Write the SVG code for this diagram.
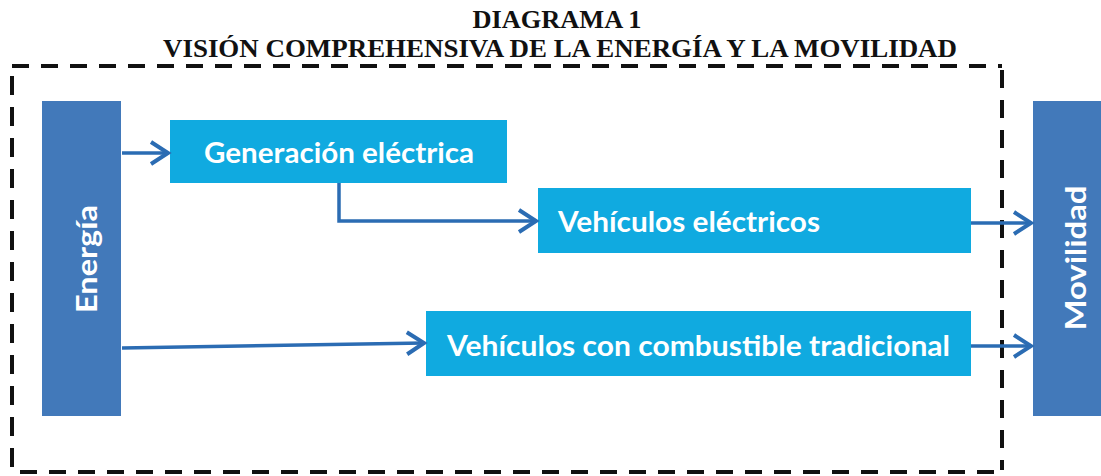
<svg xmlns="http://www.w3.org/2000/svg" width="1101" height="476" viewBox="0 0 1101 476">
<style>
.title{font-family:"Liberation Serif","Times New Roman",serif;font-weight:bold;font-size:25px;fill:#111}
.dash{stroke:#111;stroke-width:4;fill:none}
.dark{fill:#4279BA}
.light{fill:#10AAE0}
.lbl{font-family:Lato,"Liberation Sans",sans-serif;font-weight:bold;font-size:28px;fill:#fff}
.conn{stroke:#2B6CB3;stroke-width:3.5;fill:none}
</style>
<defs>
<marker id="arr" markerUnits="userSpaceOnUse" markerWidth="30" markerHeight="30" viewBox="-22 -15 26 30" refX="0" refY="0" orient="auto">
<path d="M-17,-11 L0,0 L-17,11" fill="none" stroke="#2B6CB3" stroke-width="4" stroke-linejoin="miter"/>
</marker>
</defs>
<g id="title">
<text class="title" x="557" y="28" text-anchor="middle" textLength="169" lengthAdjust="spacingAndGlyphs">DIAGRAMA 1</text>
<text class="title" x="560" y="57" text-anchor="middle" textLength="794" lengthAdjust="spacingAndGlyphs">VISIÓN COMPREHENSIVA DE LA ENERGÍA Y LA MOVILIDAD</text>
</g>
<g id="frame">
<line class="dash" x1="12" y1="66" x2="1002" y2="66" stroke-dasharray="17 12"/>
<line class="dash" x1="12" y1="472" x2="1002" y2="472" stroke-dasharray="17 12" stroke-dashoffset="-8"/>
<line class="dash" x1="12" y1="76" x2="12" y2="474" stroke-dasharray="19 12"/>
<line class="dash" x1="1002" y1="70" x2="1002" y2="470" stroke-dasharray="18 12"/>
</g>
<g id="energia">
<rect class="dark" x="42" y="101" width="79" height="315"/>
<text class="lbl" transform="translate(97,259) rotate(-90)" text-anchor="middle" textLength="108" lengthAdjust="spacingAndGlyphs">Energía</text>
</g>
<g id="movilidad">
<rect class="dark" x="1033" y="101" width="70" height="315"/>
<text class="lbl" transform="translate(1086,258) rotate(-90)" text-anchor="middle" textLength="145" lengthAdjust="spacingAndGlyphs">Movilidad</text>
</g>
<g id="generacion">
<rect class="light" x="170" y="120" width="337" height="63"/>
<text class="lbl" x="204" y="163" textLength="270" lengthAdjust="spacingAndGlyphs">Generación eléctrica</text>
</g>
<g id="vehiculos-electricos">
<rect class="light" x="538" y="188" width="433" height="65"/>
<text class="lbl" x="558" y="232" textLength="262" lengthAdjust="spacingAndGlyphs">Vehículos eléctricos</text>
</g>
<g id="vehiculos-combustible">
<rect class="light" x="426" y="311" width="545" height="65"/>
<text class="lbl" x="447" y="356" textLength="503" lengthAdjust="spacingAndGlyphs">Vehículos con combustible tradicional</text>
</g>
<g id="connectors">
<path class="conn" d="M122,153 H168" marker-end="url(#arr)"/>
<path class="conn" d="M339,183 V221 H536" marker-end="url(#arr)"/>
<path class="conn" d="M122,348 L424,343" marker-end="url(#arr)"/>
<path class="conn" d="M971,223 H1031" marker-end="url(#arr)"/>
<path class="conn" d="M971,346 H1031" marker-end="url(#arr)"/>
</g>
</svg>
